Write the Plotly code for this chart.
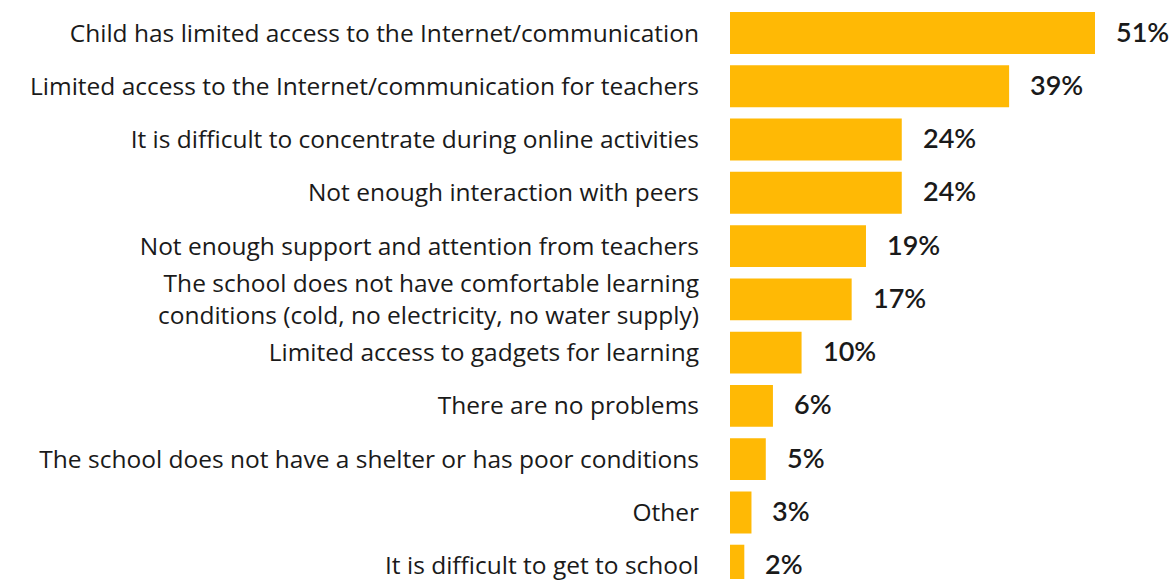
import plotly.graph_objects as go

categories = [
    "Child has limited access to the Internet/communication",
    "Limited access to the Internet/communication for teachers",
    "It is difficult to concentrate during online activities",
    "Not enough interaction with peers",
    "Not enough support and attention from teachers",
    "The school does not have comfortable learning<br>conditions (cold, no electricity, no water supply)",
    "Limited access to gadgets for learning",
    "There are no problems",
    "The school does not have a shelter or has poor conditions",
    "Other",
    "It is difficult to get to school",
]
values = [51, 39, 24, 24, 19, 17, 10, 6, 5, 3, 2]

BAR_COLOR = "#FFB905"
TEXT_COLOR = "#1a1a1a"

fig = go.Figure(
    go.Bar(
        x=values,
        y=categories,
        orientation="h",
        marker=dict(color=BAR_COLOR, line=dict(width=0)),
        hoverinfo="skip",
    )
)

for cat, v in zip(categories, values):
    fig.add_annotation(
        x=v, y=cat, text=f"{v}%", showarrow=False,
        xanchor="left", xshift=19, yshift=2,
        font=dict(family="Lato", size=27, color=TEXT_COLOR, weight=600),
    )

fig.update_layout(
    width=1174, height=581,
    margin=dict(l=730, r=0, t=0, b=0),
    paper_bgcolor="white", plot_bgcolor="white",
    bargap=0.213,
    showlegend=False,
    font=dict(family="Open Sans", size=24.5, color=TEXT_COLOR),
)
fig.update_xaxes(range=[0, 62.04], visible=False)
fig.update_yaxes(
    range=[10.25, -0.62],
    showgrid=False, zeroline=False, showline=False,
    ticks="", ticklabelstandoff=30,
    tickfont=dict(family="Open Sans", size=24.5, color=TEXT_COLOR),
)

fig.write_html("out.html")
